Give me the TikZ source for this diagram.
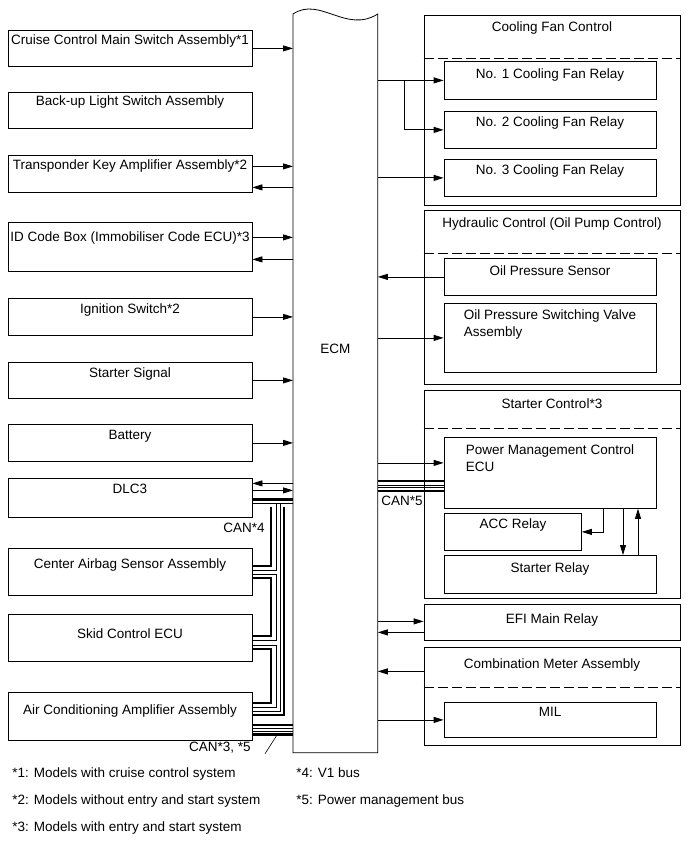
\documentclass[tikz,border=0pt]{standalone}
\usepackage{fontspec}
\setmainfont{Liberation Sans}
\usetikzlibrary{arrows.meta, positioning}
\newcommand{\dgfont}{\fontsize{13.5}{17}\selectfont}

\begin{document}
\begin{tikzpicture}[x=1pt, y=-1pt, line width=0.8pt,
  box/.style={draw, inner sep=0pt, font=\dgfont},
  lbox/.style 2 args={box, anchor=north, minimum width=244pt, text height=#1pt, text depth=#2pt},
  gbox/.style 2 args={box, anchor=north, minimum width=256pt, text height=#1pt, text depth=#2pt},
  ibox/.style 2 args={box, anchor=north, minimum width=212pt, text height=#1pt, text depth=#2pt},
  lbl/.style={font=\dgfont, inner sep=0pt},
  arr/.style={-{Triangle[length=10pt,width=6pt]}},
  sep/.style={dash pattern=on 10pt off 4pt},
  tw/.style={line width=2.6pt},
  nw/.style={line width=0.7pt}]
  \useasboundingbox (0,0) rectangle (689,853);

  % left column
  \node[lbox={14.6}{21.4}] (cc) at (130,30) {Cruise Control Main Switch Assembly*1};
  \node[lbox={13.6}{22.4}] (bl) at (130,92) {Back-up Light Switch Assembly};
  \node[lbox={14.6}{22.4}] (tk) at (130,155) {Transponder Key Amplifier Assembly*2};
  \node[lbox={18.6}{30.4}] (id) at (130,222) {ID Code Box (Immobiliser Code ECU)*3};
  \node[lbox={14.6}{22.4}] (ig) at (130,298) {Ignition Switch*2};
  \node[lbox={14.6}{21.4}] (ss) at (130,362) {Starter Signal};
  \node[lbox={14.6}{22.4}] (bat) at (130,424) {Battery};
  \node[lbox={14.6}{24.4}] (dlc) at (130,478) {DLC3};
  \node[lbox={19.6}{27.4}] (ab) at (130,548) {Center Airbag Sensor Assembly};
  \node[lbox={23.6}{23.4}] (sk) at (130,614) {Skid Control ECU};
  \node[lbox={21.6}{26.4}] (ac) at (130,692) {Air Conditioning Amplifier Assembly};

  % ECM
  \node[box, draw=none, anchor=north west, minimum width=84pt, text height=339pt, text depth=399pt] (ecm) at (293,14) {ECM};
  \draw (ecm.south west) -- (ecm.north west) .. controls ([shift={(27,-18)}]ecm.north west) and ([shift={(-32,20)}]ecm.north east) .. (ecm.north east) -- (ecm.south east) -- cycle;

  % right column
  \node[gbox={16.6}{173.4}] (cf) at (552,15) {Cooling Fan Control};
  \draw[sep] ([shift={(0,43)}]cf.north west) -- ([shift={(0,43)}]cf.north east);
  \node[ibox={17.6}{20.4}] (f1) at (550,61) {No. 1 Cooling Fan Relay};
  \node[ibox={15.6}{21.4}] (f2) at (550,111) {No. 2 Cooling Fan Relay};
  \node[ibox={15.6}{21.4}] (f3) at (550,159) {No. 3 Cooling Fan Relay};

  \node[gbox={16.6}{157.4}] (hy) at (552,210) {Hydraulic Control (Oil Pump Control)};
  \draw[sep] ([shift={(0,43)}]hy.north west) -- ([shift={(0,43)}]hy.north east);
  \node[ibox={16.6}{20.4}] (ops) at (550,258) {Oil Pressure Sensor};
  \node[ibox={15.6}{53.4}] (opv) at (550,303) {\vtop{\hbox{Oil Pressure Switching Valve}\hbox{Assembly}}};

  \node[gbox={17.6}{190.4}] (st) at (552,390) {Starter Control*3};
  \draw[sep] ([shift={(0,38)}]st.north west) -- ([shift={(0,38)}]st.north east);
  \node[ibox={16.6}{54.4}] (pmc) at (550,437) {\vtop{\hbox{Power Management Control}\hbox{ECU}}};
  \node[box, anchor=north west, minimum width=137pt, text height=14.6pt, text depth=22.4pt] (acc) at (444,513) {ACC Relay};
  \node[ibox={16.6}{21.4}] (sr) at (550,555) {Starter Relay};

  \node[gbox={18.6}{17.4}] (efi) at (552,604) {EFI Main Relay};

  \node[gbox={20.6}{77.4}] (cm) at (552,647) {Combination Meter Assembly};
  \draw[sep] ([shift={(0,40)}]cm.north west) -- ([shift={(0,40)}]cm.north east);
  \node[ibox={13.6}{21.4}] (mil) at (550,702) {MIL};

  % signals to and from the ECM
  \draw[arr] (cc.east) -- (cc.east -| ecm.west);
  \coordinate (tk1) at ([shift={(0,-7.5)}]tk.east);
  \coordinate (tk2) at ([shift={(0,13.5)}]tk.east);
  \draw[arr] (tk1) -- (tk1 -| ecm.west);
  \draw[arr] (tk2 -| ecm.west) -- (tk2);
  \coordinate (id1) at ([shift={(0,-9.5)}]id.east);
  \coordinate (id2) at ([shift={(0,12.5)}]id.east);
  \draw[arr] (id1) -- (id1 -| ecm.west);
  \draw[arr] (id2 -| ecm.west) -- (id2);
  \foreach \n in {ig,ss,bat}{\draw[arr] (\n.east) -- (\n.east -| ecm.west);}
  \coordinate (dl1) at ([shift={(0,-14.5)}]dlc.east);
  \coordinate (dl2) at ([shift={(0,-7.5)}]dlc.east);
  \draw[arr] (dl1 -| ecm.west) -- (dl1);
  \draw[arr] (dl2) -- (dl2 -| ecm.west);

  \coordinate (fx) at (404,0);
  \draw[arr] (f1.west -| ecm.east) -- (f1.west);
  \draw[arr] (fx |- f1.west) |- (f2.west);
  \draw[arr] (f3.west -| ecm.east) -- (f3.west);
  \draw[arr] (ops.west) -- (ops.west -| ecm.east);
  \draw[arr] (opv.west -| ecm.east) -- (opv.west);
  \coordinate (pm1) at ([shift={(0,-10)}]pmc.west);
  \draw[arr] (pm1 -| ecm.east) -- (pm1);
  \coordinate (pa) at (603,0);
  \coordinate (pb) at (623,0);
  \coordinate (pc) at (638,0);
  \draw[arr] (pa |- pmc.south) |- (acc.east);
  \draw[arr] (pb |- pmc.south) -- (pb |- sr.north);
  \draw[arr] (pc |- sr.north) -- (pc |- pmc.south);
  \coordinate (ef1) at ([shift={(0,-1)}]efi.west);
  \coordinate (ef2) at ([shift={(0,10)}]efi.west);
  \draw[arr] (ef1 -| ecm.east) -- (ef1);
  \draw[arr] (ef2) -- (ef2 -| ecm.east);
  \coordinate (cm1) at ([shift={(0,-25)}]cm.west);
  \draw[arr] (cm1) -- (cm1 -| ecm.east);
  \draw[arr] (mil.west -| ecm.east) -- (mil.west);

  % CAN buses
  \foreach \d/\w in {44/2.6pt, 48/0.7pt, 50.5/0.7pt, 54/2.6pt}{
    \coordinate (q) at ([shift={(0,\d)}]pmc.north west);
    \draw[line width=\w] (q -| ecm.east) -- (q);}
  \coordinate (wa) at (271,0);
  \coordinate (wb) at (276,0);
  \coordinate (wc) at (280,0);
  \coordinate (wd) at (284,0);
  \coordinate (h1) at ([shift={(0,21.5)}]dlc.north east);
  \coordinate (h2) at ([shift={(0,25.5)}]dlc.north east);
  \coordinate (h3) at ([shift={(0,28.5)}]dlc.north east);
  \draw[tw] (h1) -- (h1 -| ecm.west);
  \draw[nw] (h2) -- (h2 -| ecm.west);
  \foreach \n/\d in {a1/18, a2/22, a3/26, a4/30}{\coordinate (\n) at ([shift={(0,\d)}]ab.north east);}
  \foreach \n/\d in {s1/22, s2/26, s3/31, s4/35}{\coordinate (\n) at ([shift={(0,\d)}]sk.north east);}
  \foreach \n/\d in {c1/11, c2/15, c3/19, c4/23}{\coordinate (\n) at ([shift={(0,\d)}]ac.north east);}
  \draw[tw] (wa |- h3) |- (a1);
  \draw[nw] (wb |- h2) |- (a2);
  \draw[nw] (a3) -| (wb |- s2) -- (s2);
  \draw[tw] (a4) -| (wa |- s1) -- (s1);
  \draw[nw] (s3) -| (wb |- c2) -- (c2);
  \draw[tw] (s4) -| (wa |- c1) -- (c1);
  \draw[nw] (wc |- h2) |- (c3);
  \draw[tw] (wd |- h3) |- (c4);
  \foreach \d/\w in {33/2.6pt, 36.5/0.7pt, 39.5/0.7pt, 42.5/2.6pt}{
    \coordinate (q) at ([shift={(0,\d)}]ac.north east);
    \draw[line width=\w] (q) -- (q -| ecm.west);}

  \node[lbl, anchor=base east] (l4) at (265,532.6) {CAN*4};
  \node[lbl, anchor=base west] (l5) at (381,505.6) {CAN*5};
  \node[lbl, anchor=base east] (l35) at (251,751.6) {CAN*3, *5};
  \coordinate (lq) at (277,735);
  \draw[line width=0.6pt] ([xshift=14pt]l35.south east) -- (lq);

  % notes
  \node[lbl, anchor=base west] (n1) at (12,777.6) {*1: Models with cruise control system};
  \node[lbl, anchor=base west] (n2) at (12,804.6) {*2: Models without entry and start system};
  \node[lbl, anchor=base west] (n3) at (12,831.6) {*3: Models with entry and start system};
  \node[lbl, anchor=base west] (n4) at (296,777.6) {*4: V1 bus};
  \node[lbl, anchor=base west] (n5) at (296,804.6) {*5: Power management bus};
\end{tikzpicture}
\end{document}
